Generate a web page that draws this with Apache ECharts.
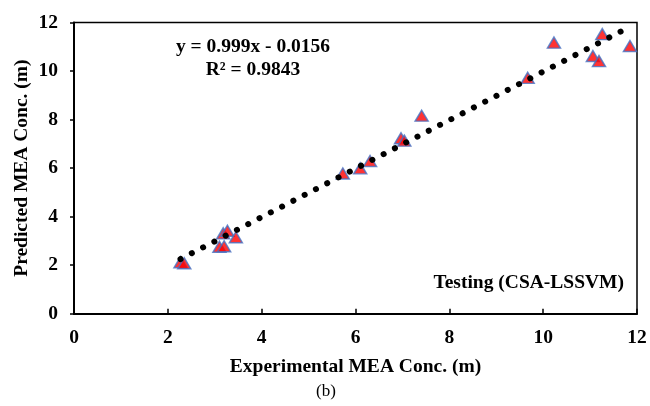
<!DOCTYPE html>
<html>
<head>
<meta charset="utf-8">
<script src="https://cdn.jsdelivr.net/npm/echarts@6/dist/echarts.min.js"></script>
<style>
  html, body { margin: 0; padding: 0; background: #fff; }
  #chart { width: 650px; height: 406px; }
</style>
</head>
<body>
<div id="chart"></div>
<script>
// Testing set: experimental vs. predicted MEA concentration (m)
const experimental = [2.27, 2.35, 3.10, 3.20, 3.18, 3.27, 3.45, 5.73, 6.10, 6.31,
                      6.97, 7.04, 7.41, 9.67, 10.23, 11.06, 11.19, 11.26, 11.85];
const predicted    = [2.12, 2.08, 2.76, 2.78, 3.31, 3.42, 3.15, 5.78, 5.99, 6.29,
                      7.23, 7.13, 8.16, 9.72, 11.17, 10.62, 10.41, 11.52, 11.03];

// Linear fit reported for the testing set
const slope = 0.999;
const intercept = -0.0156;
const rSquared = 0.9843;

const xTicks = [0, 2, 4, 6, 8, 10, 12];
const yTicks = [0, 2, 4, 6, 8, 10, 12];

const points = experimental.map((x, i) => [x, predicted[i]]);
const xMin = Math.min(...experimental);
const xMax = Math.max(...experimental);
const fitLine = [xMin, xMax].map(x => [x, slope * x + intercept]);

const eqText = 'y = ' + slope.toFixed(3) + 'x - ' + Math.abs(intercept).toFixed(4);
const r2Text = 'R\u00B2 = ' + rSquared.toFixed(4);

const serif = '"Liberation Serif", "Times New Roman", serif';
const fs = 19.5;
const chart = echarts.init(document.getElementById('chart'));

chart.setOption({
  animation: false,
  backgroundColor: '#fff',
  grid: {
    left: 74, top: 22.5, right: 13, bottom: 92.3,
    show: true, borderColor: '#000', borderWidth: 1.5
  },
  xAxis: {
    type: 'value',
    min: xTicks[0], max: xTicks[xTicks.length - 1], interval: 2,
    name: 'Experimental MEA Conc. (m)',
    nameLocation: 'middle', nameGap: 43,
    nameMoveOverlap: false,
    nameTextStyle: { fontFamily: serif, fontWeight: 'bold', fontSize: fs, color: '#000' },
    axisLine: { show: true, onZero: false, lineStyle: { color: '#000', width: 2 } },
    axisTick: { show: true, inside: true, length: 5, lineStyle: { color: '#000', width: 1.5 } },
    axisLabel: { margin: 14, fontFamily: serif, fontWeight: 'bold', fontSize: fs, color: '#000' },
    splitLine: { show: false }
  },
  yAxis: {
    type: 'value',
    min: yTicks[0], max: yTicks[yTicks.length - 1], interval: 2,
    name: 'Predicted MEA Conc. (m)',
    nameLocation: 'middle', nameGap: 42,
    nameMoveOverlap: false,
    nameTextStyle: { fontFamily: serif, fontWeight: 'bold', fontSize: fs, color: '#000' },
    axisLine: { show: true, onZero: false, lineStyle: { color: '#000', width: 2 } },
    axisTick: { show: true, inside: false, length: 4, lineStyle: { color: '#000', width: 1.5 } },
    axisLabel: { margin: 16, fontFamily: serif, fontWeight: 'bold', fontSize: fs, color: '#000' },
    splitLine: { show: false }
  },
  series: [
    {
      name: 'Testing',
      type: 'scatter',
      data: points,
      symbol: 'triangle',
      symbolSize: [13, 11],
      itemStyle: { color: '#FF0000', borderColor: '#4472C4', borderWidth: 1.5 },
      z: 2
    },
    {
      name: 'Linear fit',
      type: 'line',
      data: fitLine,
      showSymbol: false,
      symbol: 'none',
      lineStyle: { color: '#000', width: 6, type: [0.1, 12.6], cap: 'round' },
      z: 3
    }
  ],
  graphic: [
    {
      type: 'text', x: 253, y: 47, z: 10,
      style: { text: eqText, align: 'center', verticalAlign: 'middle',
               fontFamily: serif, fontWeight: 'bold', fontSize: fs, fill: '#000' }
    },
    {
      type: 'text', x: 253, y: 70, z: 10,
      style: { text: r2Text, align: 'center', verticalAlign: 'middle',
               fontFamily: serif, fontWeight: 'bold', fontSize: fs, fill: '#000' }
    },
    {
      type: 'text', x: 624, y: 283, z: 10,
      style: { text: 'Testing (CSA-LSSVM)', align: 'right', verticalAlign: 'middle',
               fontFamily: serif, fontWeight: 'bold', fontSize: fs, fill: '#000' }
    },
    {
      type: 'text', x: 326, y: 392, z: 10,
      style: { text: '(b)', align: 'center', verticalAlign: 'middle',
               fontFamily: serif, fontSize: 17, fill: '#000' }
    }
  ]
});
</script>
</body>
</html>
